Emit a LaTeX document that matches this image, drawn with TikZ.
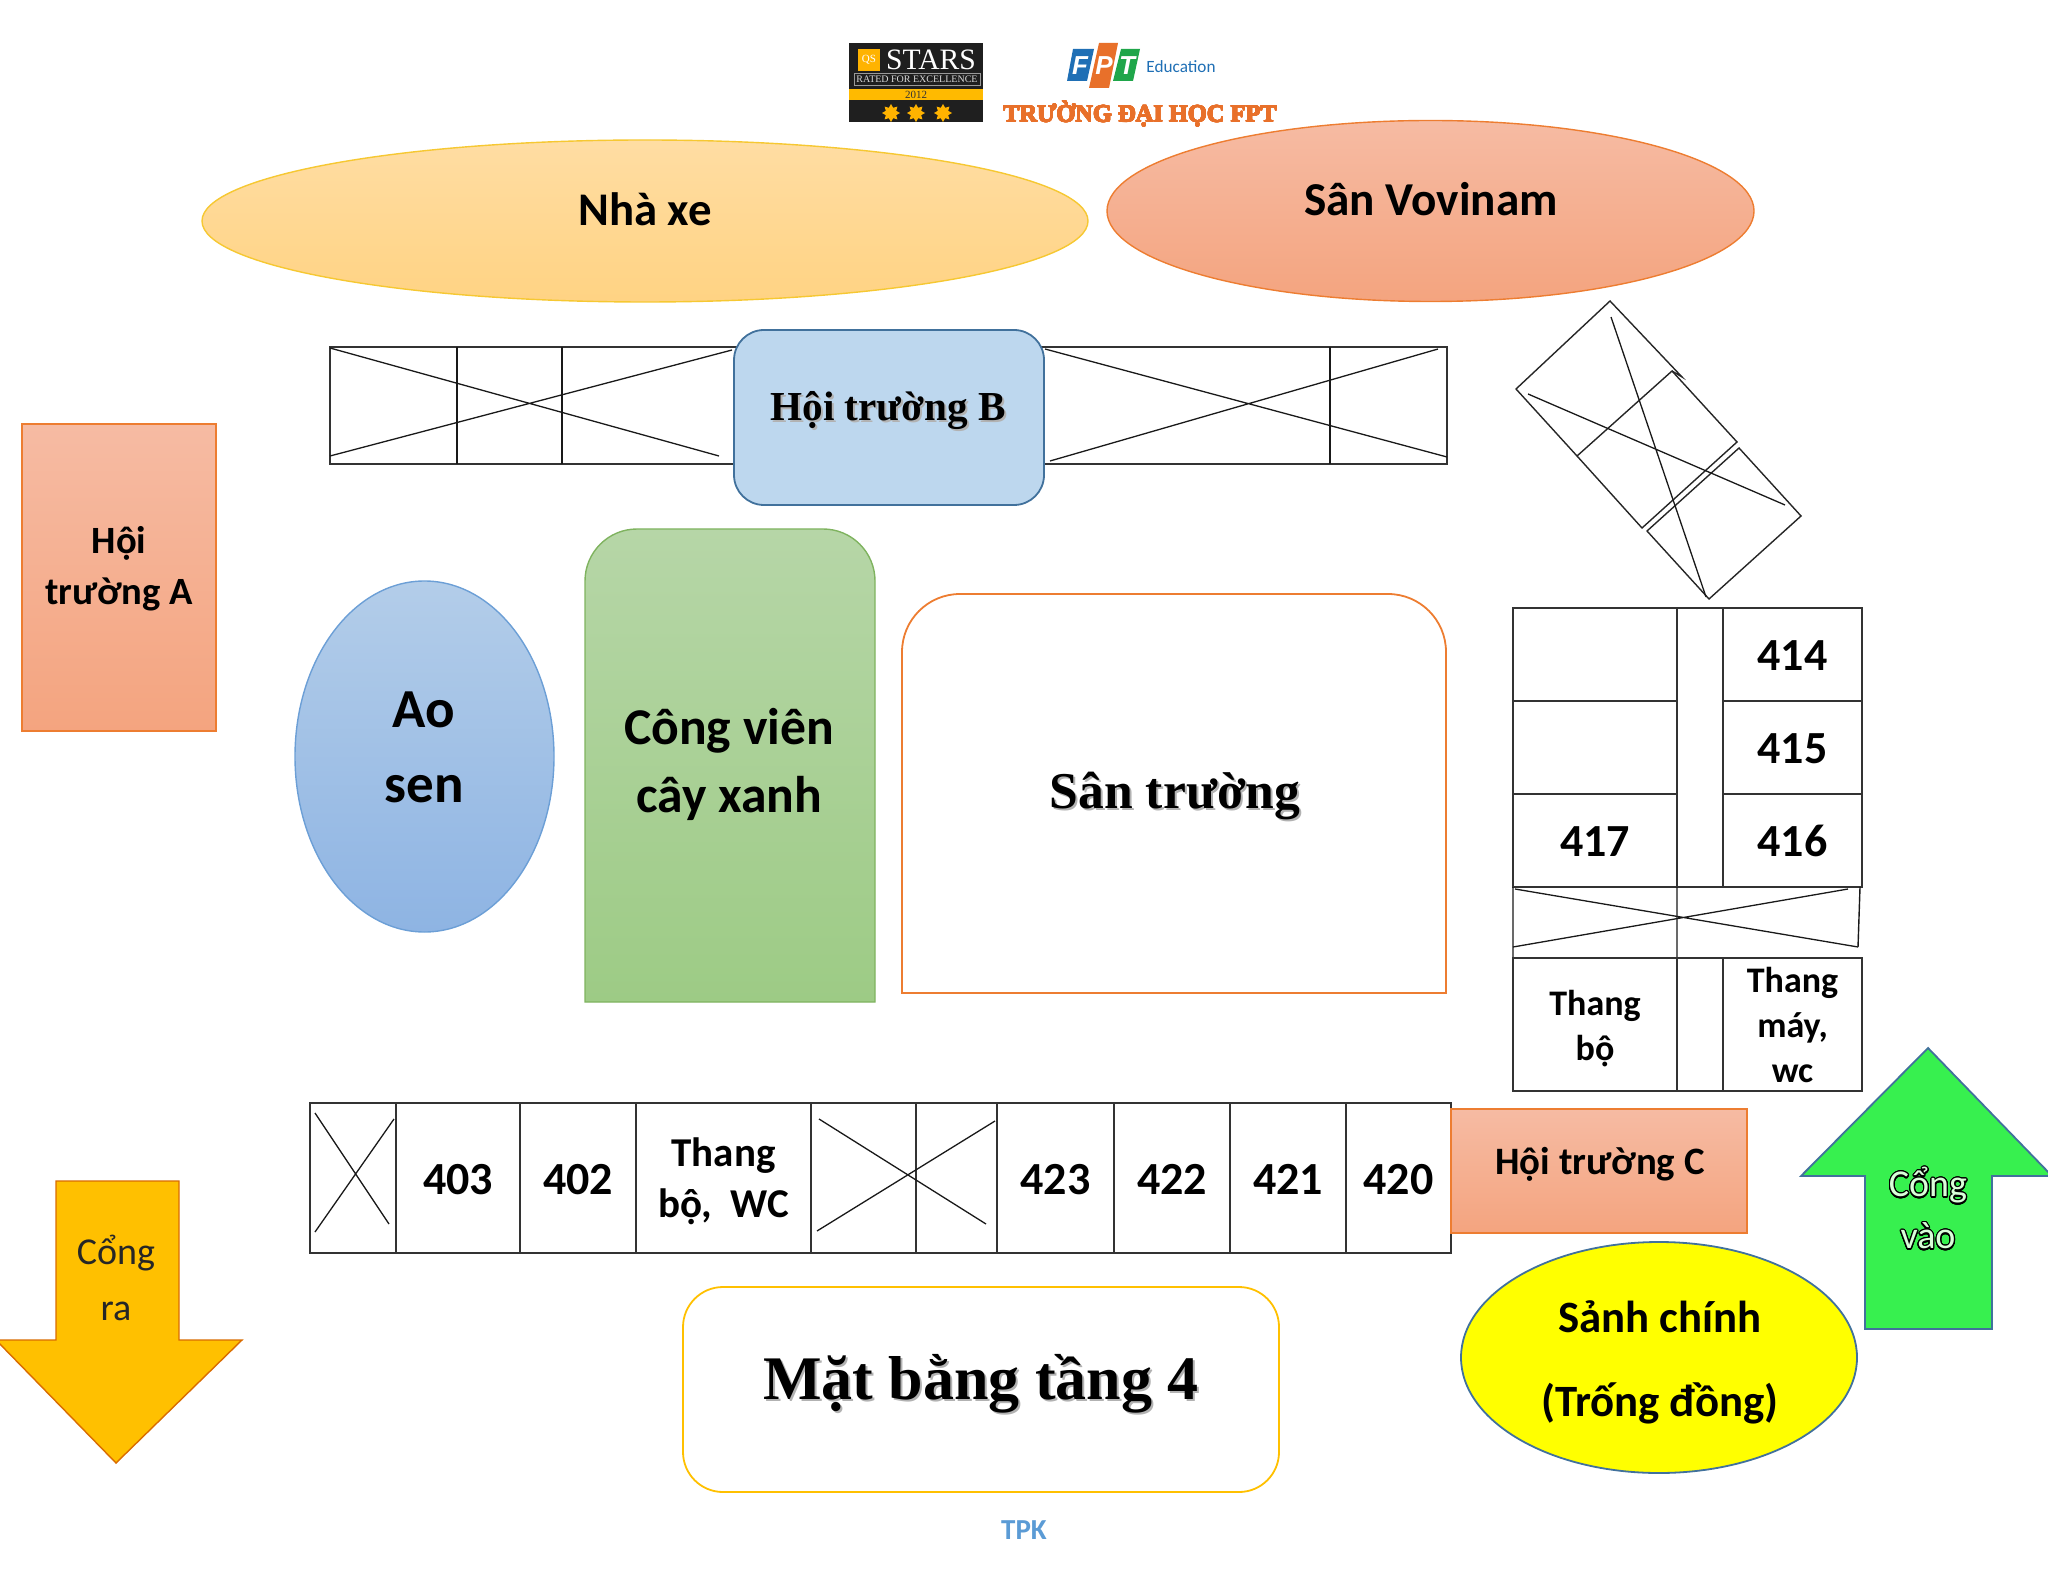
\documentclass[tikz,border=0pt]{standalone}
\usepackage{fontspec}
\setmainfont{Carlito}
\newfontfamily\serifbf{Liberation Serif}
\newfontfamily\sansbf{Liberation Sans}
\usepackage{xcolor}
\usepackage{contour}
\usetikzlibrary{positioning,shapes}
\contourlength{0.6pt}
\contournumber{24}
\definecolor{pinktop}{HTML}{F6BBA3}
\definecolor{pinkbot}{HTML}{F4A47F}
\definecolor{pinkline}{HTML}{ED7D31}
\definecolor{steel}{HTML}{41719C}
\definecolor{gold}{HTML}{FFC000}
\definecolor{fptorange}{HTML}{E8702A}
\definecolor{fptblue}{HTML}{1F6FB5}
\definecolor{fptgreen}{HTML}{1FA64A}
\definecolor{sandtop}{HTML}{FFDDA3}
\definecolor{sandbot}{HTML}{FFD383}
\definecolor{sandline}{HTML}{F6C832}
\definecolor{skytop}{HTML}{B3CDE9}
\definecolor{skybot}{HTML}{8EB4E3}
\definecolor{skyline}{HTML}{6C9FD6}
\definecolor{hallblue}{HTML}{BDD7EE}
\definecolor{parktop}{HTML}{B6D6A7}
\definecolor{parkbot}{HTML}{9DCB85}
\definecolor{parkline}{HTML}{7FB35F}
\definecolor{lobbyfill}{HTML}{FFFF00}
\definecolor{gatein}{HTML}{37F04F}
\definecolor{tpkblue}{HTML}{5B9BD5}
\newcommand{\softshadow}[1]{\leavevmode\rlap{\kern1pt\raisebox{-1pt}{\textcolor{black!30}{#1}}}#1}
\newcommand{\hollow}[1]{\contour{black}{\textcolor{white!85!green}{#1}}}
\begin{document}
\begin{tikzpicture}[
  x=0.5pt,y=-0.5pt,
  line width=0.7pt,
  cellnode/.style={draw=black!80,rectangle,inner sep=0pt,outer sep=0pt,minimum height=75pt,align=center,text height=16pt,text depth=0pt,font=\fontsize{23}{26}\selectfont\bfseries},
  sidenode/.style={cellnode,minimum width=82pt,minimum height=46.5pt},
  lownode/.style={draw=black!80,rectangle,inner sep=0pt,outer sep=0pt,minimum height=66.5pt,align=center,font=\fontsize{18}{22.5}\selectfont\bfseries},
  xline/.style={black!90,line width=0.65pt},
  pinknode/.style={draw=pinkline,top color=pinktop,bottom color=pinkbot,rectangle,inner sep=0pt,outer sep=0pt,line width=0.8pt},
  word/.style={inner sep=0pt,align=center,font=\fontsize{23}{26}\selectfont\bfseries},
  tnr/.style={inner sep=0pt,align=center,text=black}
]
\useasboundingbox (0,0) rectangle (2048,1582);
% logos
\node[fill=black!88,minimum width=67pt,minimum height=39.5pt,inner sep=0pt,outer sep=0pt] (badge) at (916,82.5) {};
\node[fill=gold!90!orange,minimum width=67pt,minimum height=5.5pt,inner sep=0pt] (band) at (916,94.5) {};
\node[fill=gold!80!orange,minimum size=11pt,inner sep=0pt] (qsbox) at (869,60) {};
\node[text=white,inner sep=0pt,font=\fontsize{5.5}{6}\serifbf] (qs) at (869,60) {QS};
\node[text=white,inner sep=0pt,font=\fontsize{14.8}{15}\serifbf] (stars) at (931,60) {STARS};
\node[draw=white!60!black,line width=0.3pt,text=white!85!black,inner sep=0pt,minimum width=63pt,minimum height=6pt,font=\fontsize{5}{5}\serifbf] (rated) at (917,79) {RATED FOR EXCELLENCE};
\node[text=black!80,inner sep=0pt,font=\fontsize{5.5}{6}\serifbf] (year) at (916,95) {2012};
\foreach \sx/\sn in {891/a,916/b,943/c}
  \node[star,star points=8,star point ratio=1.6,fill=gold!80!orange,minimum size=9pt,inner sep=0pt] (flower\sn) at (\sx,113) {};
\fill[fptblue] (1073,49) -- (1094,49) -- (1087,81) -- (1067,81) -- cycle;
\fill[fptorange] (1099,43) -- (1118,43) -- (1109,88) -- (1089,88) -- cycle;
\fill[fptgreen] (1121,49) -- (1140,49) -- (1133,81) -- (1113,81) -- cycle;
\node[text=white,inner sep=0pt,font=\fontsize{13}{14}\sansbf\bfseries\itshape] (fptF) at (1080,66) {F};
\node[text=white,inner sep=0pt,font=\fontsize{13}{14}\sansbf\bfseries\itshape] (fptP) at (1104,66) {P};
\node[text=white,inner sep=0pt,font=\fontsize{13}{14}\sansbf\bfseries\itshape] (fptT) at (1127,66) {T};
\node[text=fptblue,inner sep=0pt,font=\fontsize{8.6}{10}\selectfont] (edu) at (1181,67) {Education};
\node[text=fptorange,inner sep=0pt,font=\fontsize{12.2}{15}\serifbf\bfseries] (truong) at (1140,114) {\contourlength{0.2pt}\contour{fptorange}{TRƯỜNG ĐẠI HỌC FPT}};
% top ellipses
\node[draw=sandline,top color=sandtop,bottom color=sandbot,ellipse,minimum width=443pt,minimum height=81pt,inner sep=0pt] (NhaXe) at (645,221) {};
\node[word,font=\fontsize{23.4}{28}\selectfont\bfseries] (NhaXeT) at (645,209) {Nhà xe};
\node[draw=pinkline,top color=pinktop,bottom color=pinkbot,ellipse,minimum width=323.5pt,minimum height=90.5pt,inner sep=0pt] (SanVo) at (1430.5,211) {};
\node[word,font=\fontsize{23.6}{28}\selectfont\bfseries] (SanVoT) at (1431,199) {Sân Vovinam};
% top block
\draw[black!80] (330,347) rectangle (1447,464);
\draw[xline] (457,347) -- (457,464) (562,347) -- (562,464) (1330,347) -- (1330,464);
\draw[xline] (330,348) -- (719,456) (330,456) -- (732,350);
\draw[xline] (1045,349) -- (1447,457) (1050,461) -- (1438,349);
\node[draw=steel,fill=hallblue,rounded corners=15pt,line width=0.9pt,minimum width=155pt,minimum height=87.5pt,inner sep=0pt] (HallB) at (889,417.5) {};
\node[tnr,font=\fontsize{20.6}{24}\serifbf\bfseries] (HallBT) at (888,412) {\softshadow{Hội trường B}};
% side block
\node[pinknode,minimum width=97pt,minimum height=153.5pt,align=center] (HallA) at (119,577.5) {};
\node[word,font=\fontsize{19.3}{25.5}\selectfont\bfseries] (HallAT) at (119,569) {Hội\\trường A};
\node[draw=skyline,top color=skytop,bottom color=skybot,ellipse,minimum width=129.5pt,minimum height=175.5pt,inner sep=0pt] (AoSen) at (424.5,756.5) {};
\node[word,font=\fontsize{27.5}{37.5}\selectfont\bfseries] (AoSenT) at (424,747) {Ao\\sen};
\draw[draw=parkline,top color=parktop,bottom color=parkbot]
  (585,1002) [rounded corners=26pt] -- (585,529) -- (875,529) [sharp corners] -- (875,1002) -- cycle;
\node[word,font=\fontsize{25.8}{34}\selectfont\bfseries] (ParkT) at (729,764) {Công viên\\cây xanh};
\draw[pinkline,line width=0.9pt] (902,993) [rounded corners=29pt] -- (902,594) -- (1446,594) [sharp corners] -- (1446,993) -- cycle;
\node[tnr,font=\fontsize{25.8}{28}\serifbf\bfseries] (YardT) at (1175,797) {\softshadow{Sân trường}};
% rotated block
\draw[black!85] (1577,456) -- (1516,389) -- (1610,301) -- (1682,377) -- (1672,371);
\draw[black!85] (1577,456) -- (1672,371) -- (1737,442) -- (1642,528) -- cycle;
\draw[black!85] (1739,448) -- (1801,516) -- (1709,599) -- (1647,531) -- cycle;
\draw[xline] (1611,317) -- (1706,597) (1528,394) -- (1785,505);
% right block
\node[cellnode,minimum width=82pt,minimum height=46.5pt] (RoomA) at (1595,654.5) {};
\node[sidenode,below=0pt of RoomA] (RoomB) {};
\node[sidenode,below=0pt of RoomB] (R417) {417};
\node[cellnode,minimum width=23pt,minimum height=139.5pt,right=0pt of RoomB] (Walk) {};
\node[sidenode,minimum width=69.5pt,right=0pt of RoomA.east,xshift=23pt] (R414) {414};
\node[sidenode,minimum width=69.5pt,below=0pt of R414] (R415) {415};
\node[sidenode,minimum width=69.5pt,below=0pt of R415] (R416) {416};
\draw[black!90] (1513,887) -- (1513,958) (1677,887) -- (1677,958) (1860,887) -- (1858,947);
\draw[xline] (1515,889) -- (1858,947) (1848,889) -- (1513,947);
\node[lownode,minimum width=82pt] (StairT) at (1595,1024.5) {};
\node[lownode,minimum width=23pt,right=0pt of StairT] (WalkB) {};
\node[lownode,minimum width=69.5pt,right=0pt of WalkB] (Lift) {Thang\\máy,\\wc};
\node[inner sep=0pt,align=center,font=\fontsize{18}{22.5}\selectfont\bfseries,yshift=-2pt] (StairL) at (StairT) {Thang\\bộ};
% bottom block
\node[cellnode,minimum width=43pt] (C0) at (353,1178) {};
\node[cellnode,minimum width=62pt,right=0pt of C0] (R403) {403};
\node[cellnode,minimum width=58pt,right=0pt of R403] (R402) {402};
\node[cellnode,minimum width=87.5pt,right=0pt of R402] (Stair) {};
\node[cellnode,minimum width=52.5pt,right=0pt of Stair] (C4) {};
\node[cellnode,minimum width=40.5pt,right=0pt of C4] (C5) {};
\node[cellnode,minimum width=58.5pt,right=0pt of C5] (R423) {423};
\node[cellnode,minimum width=58pt,right=0pt of R423] (R422) {422};
\node[cellnode,minimum width=58pt,right=0pt of R422] (R421) {421};
\node[cellnode,minimum width=52.5pt,right=0pt of R421] (R420) {420};
\node[inner sep=0pt,align=center,font=\fontsize{20.5}{25.5}\selectfont\bfseries,yshift=-1.6pt] (StairW) at (Stair) {Thang\\bộ,~~WC};
\draw[xline] (315,1113) -- (389,1224) (394,1119) -- (315,1232);
\draw[xline] (819,1119) -- (986,1224) (995,1121) -- (817,1231);
\node[pinknode,minimum width=148pt,minimum height=62pt] (HallC) at (1599,1171) {};
\node[word,font=\fontsize{19.4}{22}\selectfont\bfseries] (HallCT) at (1600,1164) {Hội trường C};
\node[draw=steel,fill=lobbyfill,ellipse,line width=0.9pt,minimum width=198pt,minimum height=115.5pt,inner sep=0pt] (Lobby) at (1659,1357.5) {};
\node[word,font=\fontsize{22.4}{42}\selectfont\bfseries] (LobbyT) at (1660,1362) {Sảnh chính\\(Trống đồng)};
\draw[gold,line width=0.9pt,rounded corners=20pt] (683,1287) rectangle (1279,1492);
\node[tnr,font=\fontsize{31}{36}\serifbf\bfseries] (PlanT) at (981,1385) {\softshadow{Mặt bằng tầng 4}};
\node[inner sep=0pt,text=tpkblue,font=\fontsize{14.5}{16}\selectfont\bfseries] (TPK) at (1024,1530) {TPK};
% arrows
\draw[steel,fill=gatein,line width=0.9pt] (1928,1048) -- (2052,1176) -- (1992,1176) -- (1992,1329) -- (1865,1329) -- (1865,1176) -- (1801,1176) -- cycle;
\node[inner sep=0pt,align=center,font=\fontsize{19}{26}\selectfont] (InT) at (1928,1209) {\hollow{Cổng}\\\hollow{vào}};
\draw[orange!85!black,fill=gold,line width=0.7pt] (56,1181) -- (179,1181) -- (179,1340) -- (242,1340) -- (116,1463) -- (-4,1340) -- (56,1340) -- cycle;
\node[inner sep=0pt,align=center,font=\fontsize{19}{28}\selectfont,text=black!85] (OutT) at (116,1278) {Cổng\\ra};
\end{tikzpicture}
\end{document}
